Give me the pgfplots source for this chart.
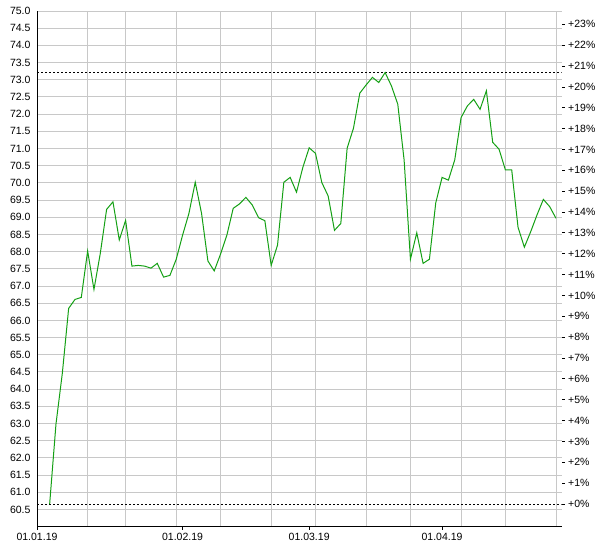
\documentclass[border=0pt]{standalone}
\usepackage{pgfplots}
\pgfplotsset{compat=1.18}
\usepackage{pgfplotstable}
\usepackage{fontspec}
\setmainfont{Liberation Sans}

\definecolor{linegreen}{RGB}{20,160,20}
\definecolor{gridgray}{RGB}{200,200,200}

% x = trading day since 01.01.19
\pgfplotstableread{
idx price
2 60.66
3 62.99
4 64.46
5 66.35
6 66.61
7 66.67
8 68.02
9 66.90
10 67.95
11 69.23
12 69.45
13 68.34
14 68.91
15 67.58
16 67.60
17 67.58
18 67.52
19 67.66
20 67.26
21 67.31
22 67.78
23 68.48
24 69.11
25 70.02
26 69.11
27 67.73
28 67.44
29 67.93
30 68.48
31 69.26
32 69.39
33 69.58
34 69.36
35 68.99
36 68.90
37 67.60
38 68.19
39 70.02
40 70.16
41 69.73
42 70.45
43 71.02
44 70.86
45 70.01
46 69.62
47 68.62
48 68.82
49 71.01
50 71.59
51 72.61
52 72.85
53 73.07
54 72.92
55 73.21
56 72.82
57 72.29
58 70.67
59 67.78
60 68.55
61 67.66
62 67.78
63 69.42
64 70.16
65 70.08
66 70.67
67 71.90
68 72.24
69 72.43
70 72.14
71 72.68
72 71.18
73 70.98
74 70.38
75 70.38
76 68.71
77 68.13
78 68.58
79 69.07
80 69.52
81 69.31
82 68.97
}\prices

\begin{document}
\begin{tikzpicture}[x=1pt,y=1pt]
\useasboundingbox (-37,-23.3) rectangle (563,526.7);
\pgfplotsset{
  common/.style={
    at={(0,0)}, anchor=south west,
    scale only axis, width=524.7pt, height=515.7pt,
    xmin=0, xmax=82.9,
    font=\fontsize{10.5}{12}\selectfont,
    /pgf/number format/assume math mode=true,
    major tick length=3pt, minor tick length=0pt, tick align=outside,
  }
}
\begin{axis}[
  common,
  ymin=60, ymax=75,
  axis x line*=bottom, axis y line*=left,
  x axis line style={-, black, line width=1pt},
  y axis line style={-, black, line width=1pt},
  xtick={0,23,43,64},
  xticklabels={01.01.19,01.02.19,01.03.19,01.04.19},
  minor xtick={8,14,22,29,37,44,52,59,67,74,82},
  xminorgrids, ymajorgrids,
  minor grid style={gridgray, line width=1pt},
  major grid style={gridgray, line width=1pt},
  ytick={60.5,61.0,61.5,62.0,62.5,63.0,63.5,64.0,64.5,65.0,65.5,66.0,66.5,67.0,67.5,
         68.0,68.5,69.0,69.5,70.0,70.5,71.0,71.5,72.0,72.5,73.0,73.5,74.0,74.5,75.0},
  yticklabel style={/pgf/number format/.cd, fixed, fixed zerofill, precision=1},
  ytick style={draw=none},
  xtick style={black, line width=0.8pt},
]
\addplot[black, line width=1pt, dash pattern=on 2pt off 2pt] coordinates {(0,73.21) (82.9,73.21)};
\addplot[black, line width=1pt, dash pattern=on 2pt off 2pt] coordinates {(0,60.66) (82.9,60.66)};
\addplot[linegreen, line width=1pt] table[x=idx, y=price] {\prices};
\end{axis}
\begin{axis}[
  common,
  ymin=-1.088, ymax=23.64,
  hide x axis,
  axis y line*=right,
  y axis line style={draw=none},
  ytick={0,1,...,23},
  yticklabel={+\pgfmathprintnumber{\tick}\%},
  ytick style={black, line width=0.8pt},
]
\end{axis}
\end{tikzpicture}
\end{document}
